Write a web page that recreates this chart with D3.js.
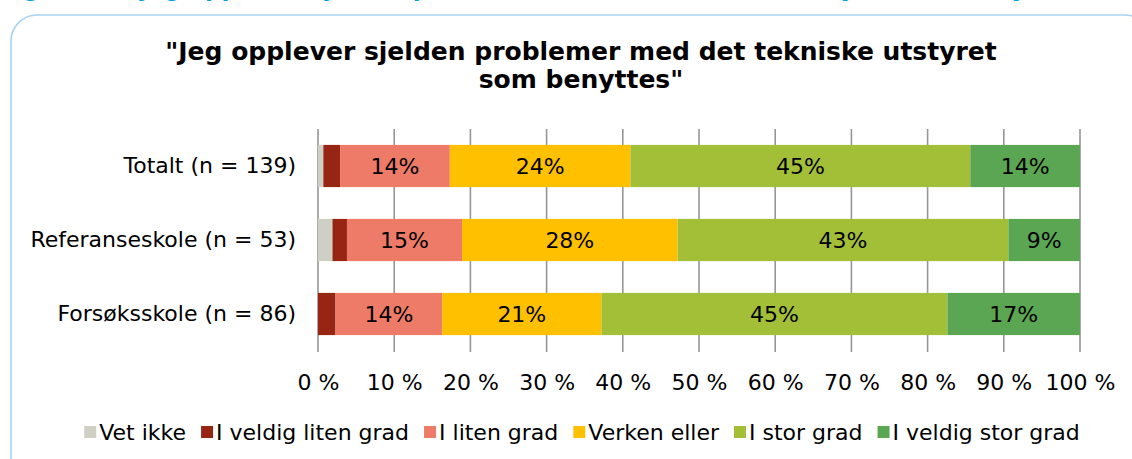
<!DOCTYPE html>
<html><head><meta charset="utf-8">
<script src="https://cdn.jsdelivr.net/npm/d3@7"></script>
<style>body{margin:0;background:#fff;} svg{display:block;}</style>
</head><body>
<svg id="c" width="1132" height="459"></svg>
<script>
const categories = ["Totalt (n = 139)", "Referanseskole (n = 53)", "Forsøksskole (n = 86)"];
const seriesNames = ["Vet ikke", "I veldig liten grad", "I liten grad", "Verken eller", "I stor grad", "I veldig stor grad"];
const seriesColors = ["#cfcfc6", "#962513", "#ee7b67", "#ffc000", "#a3bf38", "#5ba652"];
// shares (%) per category, in seriesNames order
const vetIkke      = [0.7, 1.9, 0.0];
const veldigLiten  = [2.2, 1.9, 2.3];
const liten        = [14.4, 15.1, 14.0];
const verken       = [23.7, 28.3, 20.9];
const stor         = [44.6, 43.4, 45.4];
const veldigStor   = [14.4, 9.4, 17.4];
const xTicks = [0, 10, 20, 30, 40, 50, 60, 70, 80, 90, 100];
const titleLines = ["\"Jeg opplever sjelden problemer med det tekniske utstyret", "som benyttes\""];

const values = [vetIkke, veldigLiten, liten, verken, stor, veldigStor];
const rows = categories.map((c, i) => {
  const r = {cat: c};
  seriesNames.forEach((s, j) => r[s] = values[j][i]);
  return r;
});

const svg = d3.select("#c");
const font = "'DejaVu Sans', Verdana, sans-serif";

// cut-off caption at top
svg.append("text").attr("x", 0).attr("y", -4).attr("font-family", font)
  .attr("font-weight", "bold").attr("font-size", 23).attr("fill", "#009fe3")
  .text("Figur 5.12 Jeg opplever sjelden problemer med det tekniske utstyret som benyttes");

// frame
svg.append("rect").attr("x", 11).attr("y", 15).attr("width", 1140).attr("height", 470)
  .attr("rx", 26).attr("ry", 26).attr("fill", "none").attr("stroke", "#a8d3f5").attr("stroke-width", 1.6);

// title
const title = svg.append("text").attr("text-anchor", "middle").attr("font-family", font)
  .attr("font-weight", "bold").attr("font-size", 25).attr("fill", "#000");
titleLines.forEach((l, i) => title.append("tspan").attr("x", 581).attr("y", 60 + i * 28).text(l));

const x = d3.scaleLinear().domain([0, 100]).range([318, 1080]);
const y = d3.scaleBand().domain(categories).range([129, 351]).paddingInner(0.43).paddingOuter(0.215);

// grid
svg.append("g").selectAll("line").data(xTicks).join("line")
  .attr("x1", d => x(d)).attr("x2", d => x(d)).attr("y1", 129).attr("y2", 352)
  .attr("stroke", "#969696").attr("stroke-width", 1.6);

const stack = d3.stack().keys(seriesNames)(rows);
const g = svg.append("g");
stack.forEach((layer, j) => {
  g.selectAll(null).data(layer).join("rect")
    .attr("x", d => x(d[0])).attr("width", d => x(d[1]) - x(d[0]))
    .attr("y", d => y(d.data.cat)).attr("height", y.bandwidth())
    .attr("fill", seriesColors[j]);
  g.selectAll(null).data(layer.filter(d => d[1] - d[0] >= 5)).join("text")
    .attr("x", d => (x(d[0]) + x(d[1])) / 2).attr("y", d => y(d.data.cat) + y.bandwidth() / 2 + 8)
    .attr("text-anchor", "middle").attr("font-family", font).attr("font-size", 22).attr("fill", "#000")
    .text(d => Math.round(d[1] - d[0]) + "%");
});

// x axis labels
const xa = d3.axisBottom(x).tickValues(xTicks).tickSize(0).tickFormat(d => d + " %");
svg.append("g").attr("transform", "translate(0,371)").call(xa)
  .call(s => s.select(".domain").remove())
  .selectAll("text").attr("font-family", font).attr("font-size", 22).attr("fill", "#000");

// y axis labels
const ya = d3.axisLeft(y).tickSize(0).tickPadding(22);
svg.append("g").attr("transform", "translate(318,0)").call(ya)
  .call(s => s.select(".domain").remove())
  .selectAll("text").attr("font-family", font).attr("font-size", 22).attr("fill", "#000");

// legend
const lg = svg.append("g");
let lx = 0;
seriesNames.forEach((s, j) => {
  const it = lg.append("g").attr("transform", `translate(${lx},0)`);
  it.append("rect").attr("x", 0).attr("y", -14).attr("width", 12).attr("height", 12).attr("fill", seriesColors[j]);
  const t = it.append("text").attr("x", 15).attr("y", 0).attr("font-family", font).attr("font-size", 22).attr("fill", "#000").text(s);
  const w = t.node().getComputedTextLength();
  lx += 15 + w + 15;
});
const totalW = lx - 15;
lg.attr("transform", `translate(${582 - totalW / 2},440)`);
</script>
</body></html>
